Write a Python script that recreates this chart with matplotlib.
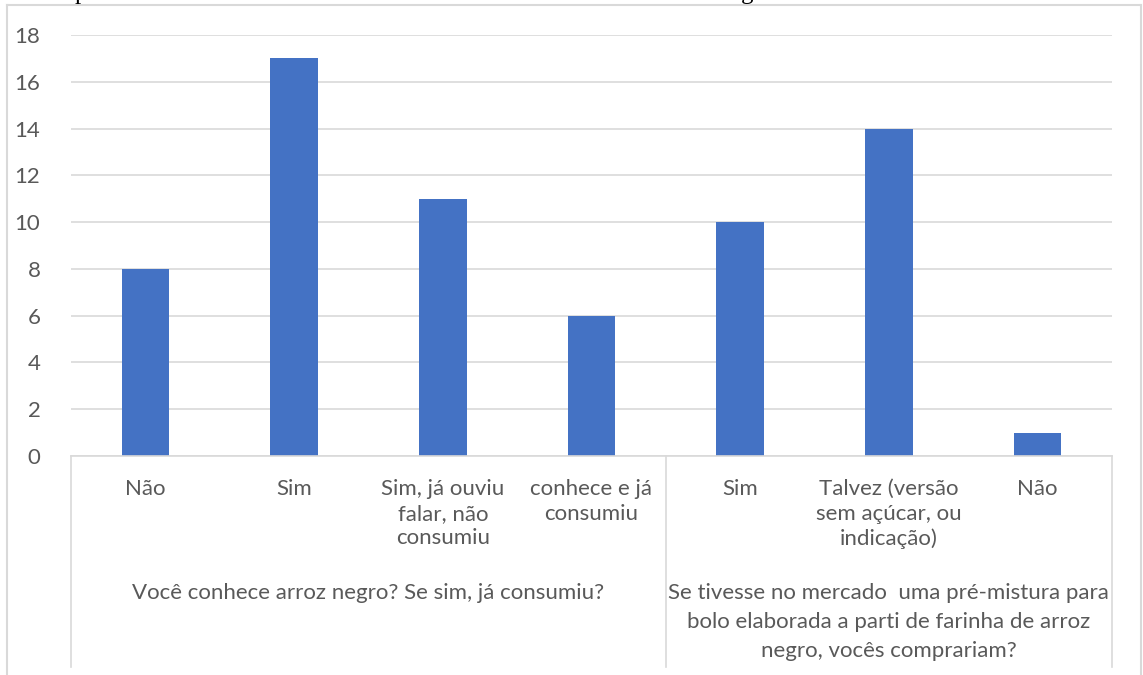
import matplotlib
matplotlib.use("Agg")
import matplotlib.pyplot as plt
from matplotlib.lines import Line2D
from matplotlib.transforms import blended_transform_factory

# Survey answers
categories = [
    "Não",
    "Sim",
    "Sim, já ouviu\nfalar, não\nconsumiu",
    "conhece e já\nconsumiu",
    "Sim",
    "Talvez (versão\nsem açúcar, ou\nindicação)",
    "Não",
]
values = [8, 17, 11, 6, 10, 14, 1]
group_titles = [
    "Você conhece arroz negro? Se sim, já consumiu?",
    "Se tivesse no mercado  uma pré-mistura para\nbolo elaborada a parti de farinha de arroz\nnegro, vocês comprariam?",
]
group_sizes = [4, 3]
y_ticks = [0, 2, 4, 6, 8, 10, 12, 14, 16, 18]

W, H = 1143, 675
TEXT = "#595959"
GRID = "#d9d9d9"
BAR = "#4472C4"
FONT = "Lato"
FS = 16

fig = plt.figure(figsize=(W / 100, H / 100), dpi=100)
fig.patch.set_facecolor("white")

left, right, top, bottom = 71, 1112, 35, 456
ax = fig.add_axes([left / W, 1 - bottom / H, (right - left) / W, (bottom - top) / H])

x = list(range(len(categories)))
ax.bar(x, values, width=0.32, color=BAR, zorder=3)
ax.set_xlim(-0.5, len(categories) - 0.5)
ax.set_ylim(0, 18)
ax.set_yticks(y_ticks)
ax.set_yticklabels([str(t) for t in y_ticks], fontsize=FS, color=TEXT, family=FONT)
ax.tick_params(axis="y", length=0, pad=22)
ax.set_xticks([])
ax.grid(axis="y", color=GRID, linewidth=1.2, zorder=0)
for s in ["top", "right", "left"]:
    ax.spines[s].set_visible(False)
ax.spines["bottom"].set_color(GRID)
ax.spines["bottom"].set_linewidth(1.2)
ax.spines["bottom"].set_zorder(4)

# Category labels under each bar
for i, lab in enumerate(categories):
    ax.annotate(lab, xy=(i, 0), xycoords=("data", "axes fraction"),
                xytext=(0, -23), textcoords="offset pixels",
                ha="center", va="top", fontsize=FS, color=TEXT,
                family=FONT, linespacing=1.29)

# Group dividers and group titles
trans = blended_transform_factory(ax.transData, fig.transFigure)
y0 = 1 - bottom / H
y1 = 1 - 667 / H
edges = [-0.5]
for n in group_sizes:
    edges.append(edges[-1] + n)
for e in edges:
    fig.add_artist(Line2D([e, e], [y0, y1], transform=trans, color=GRID, lw=1.2))

title_y = [1 - 583 / H, 1 - 583 / H]
for k, t in enumerate(group_titles):
    mid = (edges[k] + edges[k + 1]) / 2
    fig.text(mid, title_y[k], t, transform=trans, ha="center", va="top",
             fontsize=FS, color=TEXT, family=FONT, linespacing=1.55)

# Chart frame
fx0, fx1, fy = 7 / W, 1141 / W, 1 - 5 / H
for xs, ys in [([fx0, fx1], [fy, fy]), ([fx0, fx0], [fy, 0]), ([fx1, fx1], [fy, 0])]:
    fig.add_artist(Line2D(xs, ys, transform=fig.transFigure, color=GRID, lw=1.5))

# Descenders of the heading line above the frame
fig.text(75 / W, 1 + 1.5 / H, "p", fontsize=18, family="Liberation Serif",
         color="black", ha="left", va="baseline")
fig.text(741 / W, 1 + 1.5 / H, "g", fontsize=18, family="Liberation Serif",
         color="black", ha="left", va="baseline")

fig.savefig("out.png", dpi=100)
